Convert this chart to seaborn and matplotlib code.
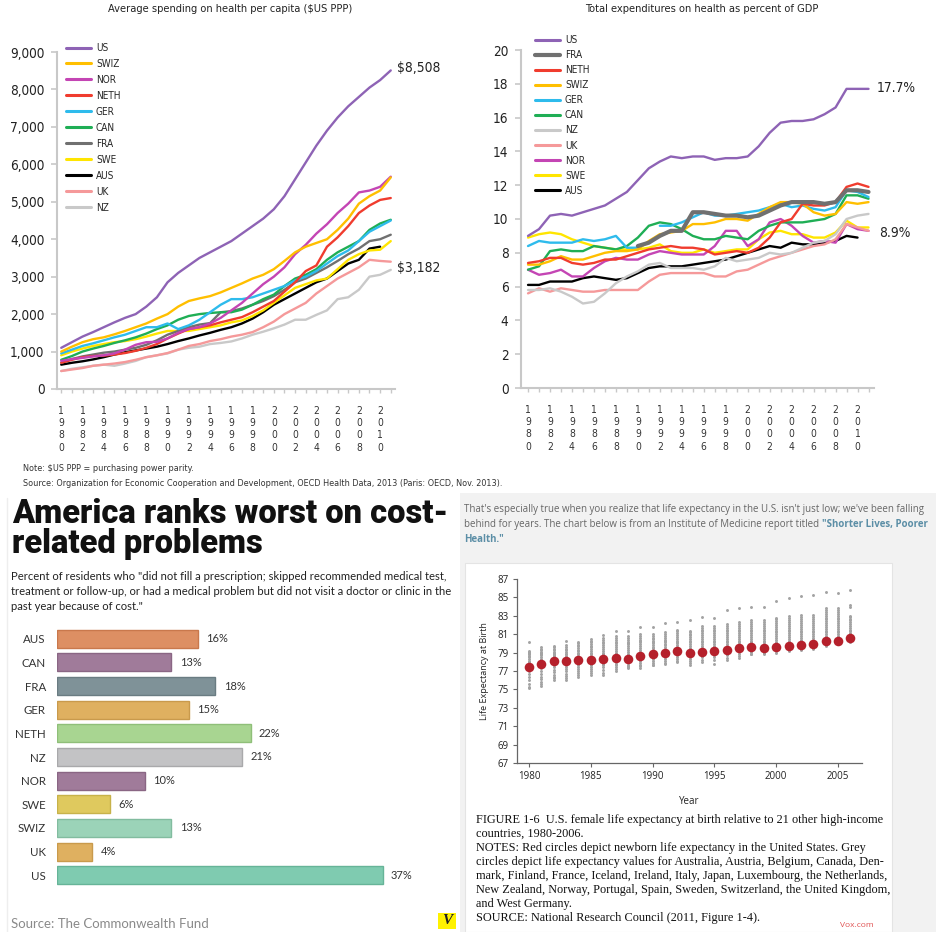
import numpy as np
import pandas as pd
import matplotlib
matplotlib.use("Agg")
import matplotlib.pyplot as plt
from matplotlib import font_manager as fm
from matplotlib.lines import Line2D
from matplotlib.patches import Rectangle
import seaborn as sns

# =============================================================================
# DATA
# =============================================================================
years = list(range(1980, 2012))
nan = np.nan

# Average spending on health per capita ($US PPP)
pc_us   = [1100,1250,1400,1520,1650,1780,1900,2000,2200,2450,2850,3100,3300,3500,3650,3800,
           3950,4150,4350,4550,4800,5150,5600,6050,6500,6900,7250,7550,7800,8050,8250,8508]
pc_swiz = [1000,1130,1250,1330,1380,1460,1550,1650,1750,1880,2000,2200,2350,2420,2480,2580,
           2700,2820,2950,3050,3200,3420,3650,3800,3900,4000,4250,4550,4950,5150,5300,5650]
pc_nor  = [750,800,830,870,900,950,1050,1180,1250,1260,1350,1500,1600,1650,1750,1900,
           2100,2300,2550,2800,3000,3250,3600,3850,4150,4400,4700,4950,5250,5300,5400,5670]
pc_neth = [700,780,850,880,890,920,960,1020,1100,1200,1350,1480,1600,1650,1700,1780,
           1850,1920,2050,2200,2350,2600,2850,3150,3300,3800,4050,4350,4700,4900,5050,5100]
pc_ger  = [950,1050,1150,1220,1300,1380,1450,1550,1650,1650,1750,1600,1700,1850,2050,2250,
           2400,2400,2450,2550,2650,2750,2900,3000,3150,3350,3550,3700,3950,4200,4350,4500]
pc_can  = [780,880,1000,1080,1150,1230,1300,1380,1480,1600,1700,1850,1950,2000,2030,2050,
           2050,2120,2250,2400,2520,2750,2950,3050,3200,3450,3650,3800,3950,4250,4420,4520]
pc_fra  = [700,800,870,920,970,1000,1050,1100,1180,1300,1450,1550,1650,1720,1760,2050,
           2080,2150,2250,2350,2480,2650,2850,2950,3100,3250,3420,3600,3750,3950,4000,4120]
pc_swe  = [900,1000,1080,1150,1200,1250,1280,1330,1400,1480,1550,1550,1550,1600,1650,1700,
           1780,1830,1950,2100,2300,2500,2700,2800,2900,2950,3200,3450,3600,3700,3720,3950]
pc_aus  = [650,700,740,790,850,920,980,1030,1080,1130,1200,1280,1350,1430,1500,1580,
           1650,1750,1880,2050,2250,2400,2550,2700,2850,2950,3150,3350,3450,3750,3800,nan]
pc_uk   = [480,520,560,620,650,680,720,780,850,900,960,1050,1150,1200,1280,1330,
           1400,1450,1520,1650,1800,2000,2150,2300,2550,2750,2950,3100,3250,3450,3420,3400]
pc_nz   = [480,540,580,620,650,620,680,750,850,900,950,1050,1100,1130,1200,1230,
           1270,1350,1450,1530,1620,1720,1850,1850,1980,2100,2400,2450,2650,3000,3050,3182]

# Total expenditures on health as percent of GDP
gdp_us   = [9.0,9.4,10.2,10.3,10.2,10.4,10.6,10.8,11.2,11.6,12.3,13.0,13.4,13.7,13.6,13.7,
            13.7,13.5,13.6,13.6,13.7,14.3,15.1,15.7,15.8,15.8,15.9,16.2,16.6,17.7,17.7,17.7]
gdp_fra  = [nan,nan,nan,nan,nan,nan,nan,nan,nan,nan,8.4,8.6,9.0,9.3,9.3,10.4,
            10.4,10.3,10.2,10.2,10.1,10.2,10.5,10.8,11.0,11.0,11.0,10.9,11.0,11.7,11.7,11.6]
gdp_neth = [7.4,7.5,7.7,7.7,7.4,7.3,7.4,7.6,7.6,7.8,8.0,8.2,8.3,8.4,8.3,8.3,
            8.2,7.9,8.0,8.1,8.0,8.3,8.9,9.8,10.0,10.9,10.8,10.8,11.0,11.9,12.1,11.9]
gdp_swiz = [7.3,7.3,7.5,7.8,7.6,7.6,7.8,8.0,8.1,8.1,8.2,8.7,9.1,9.2,9.3,9.7,
            9.7,9.8,10.0,10.0,9.9,10.3,10.7,11.0,11.0,10.9,10.4,10.2,10.3,11.0,10.9,11.0]
gdp_ger  = [8.4,8.7,8.6,8.6,8.6,8.8,8.7,8.8,9.0,8.3,8.3,nan,9.6,9.6,9.8,10.1,
            10.4,10.2,10.2,10.3,10.4,10.5,10.7,10.9,10.7,10.8,10.6,10.5,10.7,11.7,11.6,11.3]
gdp_can  = [7.0,7.2,8.1,8.2,8.1,8.1,8.4,8.3,8.2,8.4,8.9,9.6,9.8,9.7,9.4,9.0,
            8.8,8.8,9.0,8.9,8.8,9.3,9.6,9.8,9.8,9.8,9.9,10.0,10.3,11.4,11.4,11.2]
gdp_nz   = [5.8,5.8,5.9,5.7,5.4,5.0,5.1,5.6,6.2,6.6,6.9,7.3,7.4,7.1,7.1,7.1,
            7.0,7.2,7.7,7.5,7.6,7.7,8.0,7.9,8.0,8.3,8.6,8.7,9.1,10.0,10.2,10.3]
gdp_uk   = [5.6,5.9,5.7,5.9,5.8,5.7,5.7,5.8,5.8,5.8,5.8,6.3,6.7,6.8,6.8,6.8,
            6.8,6.6,6.6,6.9,7.0,7.3,7.6,7.8,8.0,8.2,8.4,8.5,8.8,9.7,9.5,9.3]
gdp_nor  = [7.0,6.7,6.8,7.0,6.6,6.6,7.1,7.5,7.7,7.6,7.6,7.9,8.1,8.0,7.9,7.9,
            7.9,8.4,9.3,9.3,8.4,8.8,9.8,10.0,9.6,9.0,8.6,8.7,8.6,9.7,9.4,9.3]
gdp_swe  = [8.9,9.1,9.2,9.1,8.8,8.6,8.4,8.3,8.2,8.2,8.2,8.3,8.5,8.1,8.0,8.0,
            8.2,8.0,8.1,8.2,8.2,8.8,9.2,9.3,9.1,9.1,8.9,8.9,9.2,9.9,9.5,9.5]
gdp_aus  = [6.1,6.1,6.3,6.3,6.3,6.5,6.6,6.5,6.4,6.5,6.8,7.1,7.2,7.2,7.2,7.3,
            7.4,7.5,7.6,7.8,8.0,8.2,8.4,8.3,8.6,8.5,8.5,8.6,8.7,9.0,8.9,nan]

line_colors = {
    "US": "#8e63b5", "SWIZ": "#ffbf00", "NOR": "#c445b4", "NETH": "#f03c2e",
    "GER": "#2ebbec", "CAN": "#1fae55", "FRA": "#707070", "SWE": "#ffe500",
    "AUS": "#000000", "UK": "#f5999a", "NZ": "#c9c9c9",
}
left_order  = ["US", "SWIZ", "NOR", "NETH", "GER", "CAN", "FRA", "SWE", "AUS", "UK", "NZ"]
right_order = ["US", "FRA", "NETH", "SWIZ", "GER", "CAN", "NZ", "UK", "NOR", "SWE", "AUS"]

per_capita = {"US": pc_us, "SWIZ": pc_swiz, "NOR": pc_nor, "NETH": pc_neth, "GER": pc_ger,
              "CAN": pc_can, "FRA": pc_fra, "SWE": pc_swe, "AUS": pc_aus, "UK": pc_uk, "NZ": pc_nz}
pct_gdp = {"US": gdp_us, "FRA": gdp_fra, "NETH": gdp_neth, "SWIZ": gdp_swiz, "GER": gdp_ger,
           "CAN": gdp_can, "NZ": gdp_nz, "UK": gdp_uk, "NOR": gdp_nor, "SWE": gdp_swe, "AUS": gdp_aus}

# Cost-related problems (%)
bar_countries = ["AUS", "CAN", "FRA", "GER", "NETH", "NZ", "NOR", "SWE", "SWIZ", "UK", "US"]
bar_values    = [16, 13, 18, 15, 22, 21, 10, 6, 13, 4, 37]
bar_colors    = ["#dd8f63", "#a07b9a", "#7f9298", "#dfb060", "#a8d591", "#c3c3c5",
                 "#a07b9a", "#dfc95e", "#9bd3b8", "#dfb060", "#7fcbb0"]
bar_edges     = ["#c9784c", "#8a6684", "#6a7c82", "#c99a4c", "#8fbf79", "#a9a9ab",
                 "#8a6684", "#c7b24a", "#82bc9f", "#c99a4c", "#66b498"]

# Female life expectancy at birth
le_years = list(range(1980, 2007))
le_us = [77.4, 77.8, 78.1, 78.1, 78.2, 78.2, 78.3, 78.4, 78.3, 78.6, 78.8, 79.0, 79.2, 79.0,
         79.1, 79.2, 79.3, 79.5, 79.6, 79.5, 79.6, 79.7, 79.8, 79.9, 80.3, 80.3, 80.6]
le_others = [
    [80.1,79.2,79.1,79.0,78.9,78.8,78.6,78.5,78.3,78.1,78.0,77.8,77.6,77.3,77.0,76.7,76.4,76.0,75.6,75.3,75.1],
    [79.6,79.4,79.3,79.1,79.0,78.8,78.7,78.5,78.3,78.1,77.9,77.7,77.5,77.3,77.0,76.7,76.4,76.1,75.8,75.6,75.4],
    [79.7,79.6,79.4,79.3,79.1,79.0,78.9,78.7,78.6,78.4,78.2,78.0,77.8,77.6,77.4,77.1,76.9,76.6,76.4,76.2,76.0],
    [80.3,79.8,79.6,79.4,79.3,79.1,78.9,78.8,78.6,78.4,78.2,78.0,77.8,77.6,77.4,77.2,77.0,76.7,76.5,76.2,76.0],
    [80.2,80.0,79.8,79.7,79.5,79.3,79.2,79.0,78.8,78.6,78.4,78.2,78.0,77.8,77.6,77.4,77.2,77.0,76.8,76.6,76.4],
    [80.5,80.3,80.1,79.9,79.7,79.6,79.4,79.2,79.0,78.8,78.6,78.4,78.2,78.0,77.8,77.6,77.4,77.2,77.0,76.8,76.6],
    [80.9,80.6,80.4,80.2,80.0,79.8,79.6,79.4,79.2,79.0,78.8,78.6,78.4,78.2,78.0,77.8,77.6,77.4,77.1,76.8,76.6],
    [81.4,80.8,80.6,80.4,80.2,80.0,79.8,79.6,79.4,79.2,79.0,78.8,78.6,78.4,78.2,78.0,77.8,77.6,77.4,77.2,77.0],
    [81.3,80.8,80.6,80.4,80.2,80.0,79.9,79.7,79.5,79.3,79.1,78.9,78.7,78.5,78.3,78.1,77.9,77.7,77.5,77.4,77.3],
    [81.8,81.0,80.8,80.6,80.4,80.3,80.1,79.9,79.7,79.5,79.3,79.1,78.9,78.7,78.5,78.3,78.1,77.9,77.7,77.5,77.3],
    [81.8,81.0,80.8,80.6,80.5,80.3,80.1,80.0,79.8,79.6,79.5,79.3,79.1,78.9,78.7,78.5,78.3,78.1,77.9,77.7,77.6],
    [82.2,81.2,81.0,80.8,80.6,80.4,80.3,80.1,79.9,79.8,79.6,79.4,79.3,79.1,78.9,78.7,78.5,78.3,78.1,77.9,77.8],
    [82.3,81.5,81.3,81.1,80.9,80.7,80.5,80.3,80.2,80.0,79.8,79.6,79.5,79.3,79.1,78.9,78.7,78.5,78.3,78.1,78.0],
    [82.5,81.4,81.2,81.0,80.9,80.7,80.5,80.3,80.1,79.9,79.7,79.5,79.3,79.1,78.9,78.7,78.5,78.3,78.1,77.9,77.7],
    [82.9,81.9,81.7,81.5,81.3,81.1,80.9,80.7,80.5,80.3,80.1,79.9,79.7,79.5,79.3,79.1,78.9,78.7,78.5,78.2,78.0],
    [82.8,81.9,81.7,81.5,81.3,81.1,80.9,80.7,80.5,80.3,80.1,79.9,79.7,79.5,79.3,79.1,78.9,78.7,78.5,78.2,77.8],
    [83.6,82.1,81.9,81.7,81.5,81.3,81.1,80.9,80.7,80.5,80.3,80.1,79.9,79.7,79.5,79.3,79.1,78.9,78.7,78.4,78.2],
    [83.8,82.3,82.1,81.9,81.7,81.5,81.3,81.1,80.9,80.7,80.5,80.3,80.1,79.9,79.7,79.5,79.3,79.1,78.9,78.6,78.4],
    [84.0,82.5,82.3,82.1,81.9,81.7,81.5,81.3,81.1,80.9,80.7,80.5,80.3,80.1,79.9,79.7,79.5,79.3,79.1,78.9,78.8],
    [84.0,82.5,82.3,82.1,81.9,81.7,81.5,81.3,81.1,80.9,80.7,80.5,80.3,80.1,79.9,79.7,79.5,79.3,79.1,79.0,78.9],
    [84.6,82.8,82.6,82.4,82.2,82.0,81.8,81.6,81.4,81.2,81.0,80.8,80.6,80.4,80.2,80.0,79.8,79.6,79.4,79.2,79.0],
    [84.9,83.0,82.8,82.5,82.3,82.1,81.9,81.7,81.5,81.3,81.1,80.9,80.7,80.5,80.3,80.1,79.9,79.7,79.5,79.3,79.2],
    [85.2,83.1,82.9,82.6,82.4,82.2,82.0,81.8,81.6,81.4,81.2,81.0,80.8,80.6,80.4,80.2,80.0,79.8,79.6,79.4,79.3],
    [85.3,83.1,82.9,82.6,82.4,82.2,82.0,81.8,81.6,81.4,81.2,81.0,80.8,80.6,80.4,80.2,80.0,79.8,79.6,79.5,79.4],
    [85.6,83.9,83.6,83.4,83.2,83.0,82.8,82.6,82.4,82.2,82.0,81.8,81.6,81.4,81.2,81.0,80.8,80.6,80.3,80.0,79.7],
    [85.5,83.8,83.6,83.4,83.2,83.0,82.8,82.6,82.4,82.2,82.0,81.8,81.6,81.4,81.2,81.0,80.8,80.6,80.4,80.1,79.9],
    [85.8,84.2,84.0,83.0,82.9,82.7,82.5,82.3,82.1,81.9,81.7,81.5,81.3,81.1,80.9,80.7,80.6,80.5,80.4,80.3,80.2],
]

# =============================================================================
# FIGURE
# =============================================================================
W, H = 936, 932
def fx(x): return x / W
def fy(y): return 1 - y / H
def box(x0, y0, x1, y1): return [fx(x0), fy(y1), (x1 - x0) / W, (y1 - y0) / H]

sns.set_theme(style="white")

# narrow face for the OECD charts: use a condensed font if one is installed
font_names = {f.name for f in fm.fontManager.ttflist}
has_cond = any(f.name == "DejaVu Sans" and str(f.stretch) in ("condensed", "semi-condensed")
               for f in fm.fontManager.ttflist)
if "Liberation Sans Narrow" in font_names:
    NARROW, STRETCH, K = ["Liberation Sans Narrow", "DejaVu Sans"], "normal", 1.0
elif has_cond:
    NARROW, STRETCH, K = ["DejaVu Sans", "DejaVu Sans"], "condensed", 0.92
else:
    NARROW, STRETCH, K = ["Liberation Sans", "DejaVu Sans"], "normal", 0.86
plt.rcParams["font.family"] = NARROW
plt.rcParams["font.stretch"] = STRETCH

fig = plt.figure(figsize=(9.36, 9.32), dpi=100)
fig.patch.set_facecolor("white")


def long_df(series, names):
    rows = []
    for name in names:
        seg = 0
        prev_nan = True
        for yr, v in zip(years, series[name]):
            if np.isnan(v):
                prev_nan = True
                continue
            if prev_nan:
                seg += 1
                prev_nan = False
            rows.append((name, seg, yr, v))
    return pd.DataFrame(rows, columns=["country", "seg", "year", "value"])


def style_top(ax, ymax, ystep, fmt):
    ax.set_ylim(0, ymax)
    ticks = list(range(0, ymax + 1, ystep))
    ax.set_yticks(ticks)
    ax.set_yticklabels([fmt(v) for v in ticks], fontsize=10.6 * K, color="#222222")
    major = list(range(1980, 2011, 2))
    ax.set_xticks(major)
    ax.set_xticklabels(["\n".join(str(y)) for y in major], fontsize=8 * K, color="#333333",
                       linespacing=1.3)
    ax.set_xticks(years, minor=True)
    for s in ["top", "right"]:
        ax.spines[s].set_visible(False)
    for s in ["left", "bottom"]:
        ax.spines[s].set_color("#c8c8c8")
        ax.spines[s].set_linewidth(1.5)
    ax.tick_params(axis="y", left=True, length=4, width=1.2, color="#c8c8c8", pad=5)
    ax.tick_params(axis="x", which="both", bottom=True, length=3, width=1, color="#c8c8c8", pad=9)
    ax.set_xlabel("")
    ax.set_ylabel("")


def draw_lines(ax, data, order, thick=()):
    df = long_df(data, order)
    for name in reversed(order):
        sub = df[df["country"] == name]
        sns.lineplot(data=sub, x="year", y="value", units="seg", estimator=None,
                     color=line_colors[name], lw=3.0 if name in thick else 1.7, ax=ax)
    handles = [Line2D([0], [0], color=line_colors[n], lw=3.0 if n in thick else 2.2) for n in order]
    return handles


# ---- Top-left: per capita spending -----------------------------------------
ax1 = fig.add_axes(box(57, 52, 395, 389))
h1 = draw_lines(ax1, per_capita, left_order)
ax1.set_xlim(1979.6, 2011.4)
style_top(ax1, 9000, 1000, lambda v: f"{v:,}")
ax1.text(2011.6, 8560, "$8,508", fontsize=10.8 * K, va="center", ha="left", color="#222222", clip_on=False)
ax1.text(2011.6, 3230, "$3,182", fontsize=10.8 * K, va="center", ha="left", color="#222222", clip_on=False)
fig.legend(h1, left_order, loc="upper left", bbox_to_anchor=(fx(66), fy(43)),
           frameon=False, fontsize=7.8 * K, handlelength=2.5, handletextpad=0.5,
           labelspacing=0.6, borderaxespad=0, borderpad=0)
fig.text(fx(230), fy(9), "Average spending on health per capita ($US PPP)",
         fontsize=8.6 * K, ha="center", va="center", color="#222222")

# ---- Top-right: percent of GDP --------------------------------------------
ax2 = fig.add_axes(box(521, 50, 874, 388))
h2 = draw_lines(ax2, pct_gdp, right_order, thick=("FRA",))
ax2.set_xlim(1979.36, 2011.5)
style_top(ax2, 20, 2, lambda v: f"{v}")
ax2.text(2011.7, 17.75, "17.7%", fontsize=10.8 * K, va="center", ha="left", color="#222222", clip_on=False)
ax2.text(2012.0, 9.2, "8.9%", fontsize=10.8 * K, va="center", ha="left", color="#222222", clip_on=False)
fig.legend(h2, right_order, loc="upper left", bbox_to_anchor=(fx(535), fy(35)),
           frameon=False, fontsize=7.8 * K, handlelength=2.5, handletextpad=0.5,
           labelspacing=0.51, borderaxespad=0, borderpad=0)
fig.text(fx(702), fy(9), "Total expenditures on health as percent of GDP",
         fontsize=8.6 * K, ha="center", va="center", color="#222222")

fig.text(fx(23), fy(468), "Note: $US PPP = purchasing power parity.",
         fontsize=7.0 * K, va="center", color="#333333")
fig.text(fx(23), fy(483), "Source: Organization for Economic Cooperation and Development, "
         "OECD Health Data, 2013 (Paris: OECD, Nov. 2013).",
         fontsize=7.0 * K, va="center", color="#333333")

# ---- Bottom-left: cost-related problems -----------------------------------
SANS = ["Lato", "DejaVu Sans"]
fig.add_artist(Line2D([fx(7), fx(7)], [fy(498), fy(932)], color="#eeeeee", lw=1))
for txt, yb in [("America ranks worst on cost-", 523), ("related problems", 553)]:
    fig.text(fx(12), fy(yb), txt, fontsize=23.5, fontweight="black", stretch="normal",
             family=["Roboto", "DejaVu Sans"], color="#111111", va="baseline")
sub_lines = ["Percent of residents who \"did not fill a prescription; skipped recommended medical test,",
             "treatment or follow-up, or had a medical problem but did not visit a doctor or clinic in the",
             "past year because of cost.\""]
for i, s in enumerate(sub_lines):
    fig.text(fx(11), fy(580 + 15 * i), s, fontsize=8.1, family=SANS, stretch="normal",
             color="#222222", va="baseline")

ax3 = fig.add_axes(box(57, 627, 453, 887))
bar_df = pd.DataFrame({"country": bar_countries, "value": bar_values})
sns.barplot(data=bar_df, x="value", y="country", hue="country", palette=bar_colors,
            legend=False, orient="h", width=0.76, saturation=1, ax=ax3)
for cont, ec in zip(ax3.containers, bar_edges):
    for p in cont:
        p.set_edgecolor(ec)
        p.set_linewidth(1.0)
for i, v in enumerate(bar_values):
    ax3.text(v + 0.95, i, f"{v}%", va="center", ha="left", fontsize=8,
             family=SANS, stretch="normal", color="#333333")
ax3.set_xlim(0, 45)
ax3.set_ylim(10.5, -0.5)
for s in ax3.spines.values():
    s.set_visible(False)
ax3.set_xticks([])
ax3.set_xlabel("")
ax3.set_ylabel("")
ax3.tick_params(axis="y", length=0, pad=8)
for lab in ax3.get_yticklabels():
    lab.set_fontsize(8.3)
    lab.set_family(SANS)
    lab.set_stretch("normal")
    lab.set_color("#333333")
ax3.set_facecolor("none")

fig.text(fx(11), fy(928), "Source: The Commonwealth Fund", fontsize=9.5,
         family=SANS, stretch="normal", color="#8a8a8a", va="baseline")
fig.add_artist(Rectangle((fx(438), fy(929)), 18 / W, 16 / H, facecolor="#fff200",
                         edgecolor="none", transform=fig.transFigure))
fig.text(fx(447), fy(921), "V", fontsize=11, fontweight="bold", style="italic", stretch="normal",
         family=["Liberation Serif", "DejaVu Serif"], color="#222222", ha="center", va="center")

# ---- Bottom-right: life expectancy ----------------------------------------
fig.add_artist(Rectangle((fx(460), 0), (W - 460) / W, (932 - 493) / H, facecolor="#f2f2f2",
                         edgecolor="none", transform=fig.transFigure, zorder=0))
fig.add_artist(Rectangle((fx(465), 0), (892 - 465) / W, (932 - 563) / H, facecolor="white",
                         edgecolor="#e4e4e4", lw=0.8, transform=fig.transFigure, zorder=0))

PARA = ["Open Sans", "DejaVu Sans"]
fig.text(fx(464), fy(512), "That's especially true when you realize that life expectancy in the U.S. "
         "isn't just low; we've been falling", fontsize=7.05, family=PARA, stretch="normal",
         color="#666666", va="baseline")
t2 = fig.text(fx(464), fy(527), "behind for years. The chart below is from an Institute of Medicine "
              "report titled ", fontsize=7.05, family=PARA, stretch="normal", color="#666666",
              va="baseline")
fig.canvas.draw()
ext = t2.get_window_extent()
fig.text(ext.x1 / fig.bbox.width, fy(527), "\"Shorter Lives, Poorer", fontsize=7.05, family=PARA,
         stretch="normal", fontweight="bold", color="#5b8ea6", va="baseline")
fig.text(fx(464), fy(542), "Health.\"", fontsize=7.05, family=PARA, stretch="normal",
         fontweight="bold", color="#5b8ea6", va="baseline")

ax4 = fig.add_axes(box(517, 579, 862, 763))
ax4.set_facecolor("none")
grey_df = pd.DataFrame([(yr, v) for yr, vals in zip(le_years, le_others) for v in vals],
                       columns=["year", "le"])
us_df = pd.DataFrame({"year": le_years, "le": le_us})
sns.scatterplot(data=grey_df, x="year", y="le", color="#a3a3a3", s=4.5, linewidth=0, ax=ax4)
sns.scatterplot(data=us_df, x="year", y="le", color="#b5202b", s=48, linewidth=0, ax=ax4)
ax4.set_xlim(1979.03, 2006.94)
ax4.set_ylim(67, 87)
ax4.set_yticks(list(range(67, 88, 2)))
ax4.set_xticks(list(range(1980, 2006, 5)))
for s in ["top", "right"]:
    ax4.spines[s].set_visible(False)
for s in ["left", "bottom"]:
    ax4.spines[s].set_color("#666666")
    ax4.spines[s].set_linewidth(0.9)
ax4.tick_params(axis="both", length=3, width=0.8, color="#666666", labelsize=7,
                labelcolor="#222222", left=True, bottom=True, pad=3)
for lab in ax4.get_xticklabels() + ax4.get_yticklabels():
    lab.set_family(PARA)
    lab.set_stretch("normal")
ax4.set_ylabel("Life Expectancy at Birth", fontsize=6.5, family=PARA, stretch="normal",
               color="#222222", labelpad=6)
ax4.set_xlabel("Year", fontsize=7, family=PARA, stretch="normal", color="#222222", labelpad=10)

SERIF = ["Liberation Serif", "DejaVu Serif"]
cap = ["FIGURE 1-6  U.S. female life expectancy at birth relative to 21 other high-income",
       "countries, 1980-2006.",
       "NOTES: Red circles depict newborn life expectancy in the United States. Grey",
       "circles depict life expectancy values for Australia, Austria, Belgium, Canada, Den-",
       "mark, Finland, France, Iceland, Ireland, Italy, Japan, Luxembourg, the Netherlands,",
       "New Zealand, Norway, Portugal, Spain, Sweden, Switzerland, the United Kingdom,",
       "and West Germany.",
       "SOURCE: National Research Council (2011, Figure 1-4)."]
for i, s in enumerate(cap):
    fig.text(fx(476), fy(823 + 14 * i), s, fontsize=8.8, family=SERIF, stretch="normal",
             color="#111111", va="baseline")
fig.text(fx(840), fy(927), "Vox.com", fontsize=6, family=PARA, stretch="normal",
         color="#e05252", va="baseline")

fig.savefig("out.png", dpi=100, facecolor="white")
